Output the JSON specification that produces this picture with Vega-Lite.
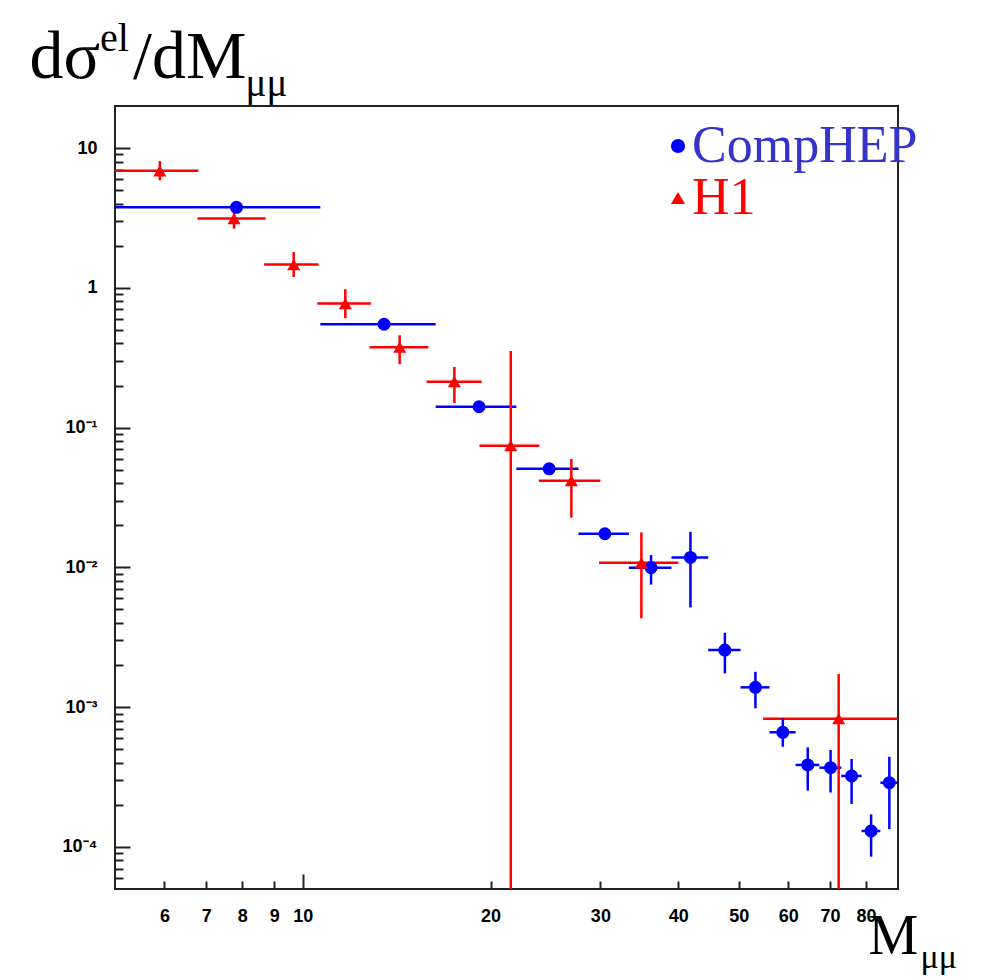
{
  "$schema": "https://vega.github.io/schema/vega-lite/v6.json",
  "width": 783,
  "height": 783,
  "autosize": {"type": "none"},
  "padding": {"left": 115, "top": 106, "right": 96, "bottom": 91},
  "background": "white",
  "config": {"view": {"stroke": "#222", "strokeWidth": 2}},
  "title": {"text": "el", "anchor": "start", "frame": "group", "font": "Liberation Serif", "fontSize": 40, "fontWeight": "normal", "color": "#000", "offset": 0, "baseline": "alphabetic", "dx": -15, "dy": 68},
  "data": {"values": [
    {"series": "CompHEP", "x": 7.83, "xlo": 5, "xhi": 10.67, "y": 3.77, "ylo": 3.77, "yhi": 3.77},
    {"series": "CompHEP", "x": 13.5, "xlo": 10.67, "xhi": 16.33, "y": 0.549, "ylo": 0.549, "yhi": 0.549},
    {"series": "CompHEP", "x": 19.17, "xlo": 16.33, "xhi": 22, "y": 0.141, "ylo": 0.141, "yhi": 0.141},
    {"series": "CompHEP", "x": 24.83, "xlo": 22, "xhi": 27.67, "y": 0.0507, "ylo": 0.0507, "yhi": 0.0507},
    {"series": "CompHEP", "x": 30.5, "xlo": 27.67, "xhi": 33.33, "y": 0.0174, "ylo": 0.0174, "yhi": 0.0174},
    {"series": "CompHEP", "x": 36.17, "xlo": 33.33, "xhi": 39, "y": 0.00996, "ylo": 0.00753, "yhi": 0.01224},
    {"series": "CompHEP", "x": 41.83, "xlo": 39, "xhi": 44.67, "y": 0.01178, "ylo": 0.00517, "yhi": 0.01797},
    {"series": "CompHEP", "x": 47.5, "xlo": 44.67, "xhi": 50.33, "y": 0.00256, "ylo": 0.001745, "yhi": 0.003405},
    {"series": "CompHEP", "x": 53.17, "xlo": 50.33, "xhi": 56, "y": 0.001386, "ylo": 0.000981, "yhi": 0.00179},
    {"series": "CompHEP", "x": 58.83, "xlo": 56, "xhi": 61.67, "y": 0.000661, "ylo": 0.000521, "yhi": 0.000832},
    {"series": "CompHEP", "x": 64.5, "xlo": 61.67, "xhi": 67.33, "y": 0.000386, "ylo": 0.000253, "yhi": 0.000516},
    {"series": "CompHEP", "x": 70.17, "xlo": 67.33, "xhi": 73, "y": 0.000369, "ylo": 0.000245, "yhi": 0.000494},
    {"series": "CompHEP", "x": 75.83, "xlo": 73, "xhi": 78.67, "y": 0.000322, "ylo": 0.000203, "yhi": 0.000426},
    {"series": "CompHEP", "x": 81.5, "xlo": 78.67, "xhi": 84.33, "y": 0.00013, "ylo": 0.0000852, "yhi": 0.000171},
    {"series": "CompHEP", "x": 87.17, "xlo": 84.33, "xhi": 90, "y": 0.000288, "ylo": 0.000134, "yhi": 0.000442},
    {"series": "H1", "x": 5.9, "xlo": 5, "xhi": 6.8, "y": 6.87, "ylo": 5.875, "yhi": 8.07},
    {"series": "H1", "x": 7.76, "xlo": 6.78, "xhi": 8.72, "y": 3.13, "ylo": 2.65, "yhi": 3.69},
    {"series": "H1", "x": 9.67, "xlo": 8.67, "xhi": 10.6, "y": 1.467, "ylo": 1.196, "yhi": 1.805},
    {"series": "H1", "x": 11.7, "xlo": 10.55, "xhi": 12.86, "y": 0.772, "ylo": 0.606, "yhi": 0.977},
    {"series": "H1", "x": 14.3, "xlo": 12.8, "xhi": 15.9, "y": 0.376, "ylo": 0.284, "yhi": 0.458},
    {"series": "H1", "x": 17.5, "xlo": 15.8, "xhi": 19.35, "y": 0.213, "ylo": 0.15, "yhi": 0.272},
    {"series": "H1", "x": 21.55, "xlo": 19.2, "xhi": 23.95, "y": 0.0743, "ylo": 0.000001, "yhi": 0.3535},
    {"series": "H1", "x": 26.95, "xlo": 23.9, "xhi": 30.0, "y": 0.0417, "ylo": 0.0227, "yhi": 0.0597},
    {"series": "H1", "x": 34.9, "xlo": 29.85, "xhi": 40.0, "y": 0.01078, "ylo": 0.00432, "yhi": 0.01779},
    {"series": "H1", "x": 72.3, "xlo": 54.7, "xhi": 90, "y": 0.000827, "ylo": 0.000001, "yhi": 0.001725}
  ]},
  "layer": [
    {"layer": [
      {"mark": {"type": "rule", "strokeWidth": 2.5, "clip": true},
       "encoding": {
         "x": {"field": "xlo", "type": "quantitative",
               "scale": {"type": "log", "domain": [5, 90], "nice": false},
               "axis": {"orient": "bottom", "values": [6, 7, 8, 9, 10, 20, 30, 40, 50, 60, 70, 80],
                        "labelExpr": "'' + datum.value", "domain": false, "grid": false,
                        "tickColor": "#222", "tickWidth": 2,
                        "tickSize": {"condition": {"test": "datum.value === 10", "value": -15}, "value": -8},
                        "labelPadding": {"condition": {"test": "datum.value === 10", "value": 33}, "value": 26},
                        "labelFont": "Liberation Sans", "labelFontSize": 18, "labelFontWeight": "bold", "labelColor": "#000",
                        "labelBaseline": "top", "labelAlign": "center", "labelFlush": false, "labelOverlap": false,
                        "title": "M", "titleFont": "Liberation Serif", "titleFontSize": 56, "titleFontWeight": "normal",
                        "titleColor": "#000", "titleX": 753, "titleY": 64, "titleAlign": "left", "titleBaseline": "alphabetic", "titleAngle": 0}},
         "x2": {"field": "xhi"},
         "y": {"field": "y", "type": "quantitative",
               "scale": {"type": "log", "domain": [0.00005, 20], "nice": false},
               "axis": {"orient": "left",
                        "values": [0.00006, 0.00007, 0.00008, 0.00009, 0.0001, 0.0002, 0.0003, 0.0004, 0.0005, 0.0006, 0.0007, 0.0008, 0.0009, 0.001, 0.002, 0.003, 0.004, 0.005, 0.006, 0.007, 0.008, 0.009, 0.01, 0.02, 0.03, 0.04, 0.05, 0.06, 0.07, 0.08, 0.09, 0.1, 0.2, 0.3, 0.4, 0.5, 0.6, 0.7, 0.8, 0.9, 1, 2, 3, 4, 5, 6, 7, 8, 9, 10],
                        "labelExpr": "datum.value === 10 ? '10' : datum.value === 1 ? '1' : datum.value === 0.1 ? '10⁻¹' : datum.value === 0.01 ? '10⁻²' : datum.value === 0.001 ? '10⁻³' : datum.value === 0.0001 ? '10⁻⁴' : ''",
                        "domain": false, "grid": false, "tickColor": "#222", "tickWidth": 2,
                        "tickSize": {"condition": {"test": "datum.value === 10 || datum.value === 1 || datum.value === 0.1 || datum.value === 0.01 || datum.value === 0.001 || datum.value === 0.0001", "value": -15}, "value": -8},
                        "labelPadding": 33, "labelFont": "Liberation Sans", "labelFontSize": 18, "labelFontWeight": "bold", "labelColor": "#000",
                        "labelAlign": "right", "labelBaseline": "middle", "labelFlush": false, "labelOverlap": false,
                        "title": "dσ\u2009\u2009\u200a/dM", "titleFont": "Liberation Serif", "titleFontSize": 68, "titleFontWeight": "normal", "titleColor": "#000",
                        "titleX": -86, "titleY": -29, "titleAlign": "left", "titleBaseline": "alphabetic", "titleAngle": 0}},
         "stroke": {"field": "series", "type": "nominal", "scale": {"domain": ["H1", "CompHEP"], "range": ["#ff0000", "#0000ff"]}, "legend": null}
       }},
      {"mark": {"type": "rule", "strokeWidth": 2.5, "clip": true},
       "encoding": {
         "x": {"field": "x", "type": "quantitative"},
         "y": {"field": "ylo", "type": "quantitative"},
         "y2": {"field": "yhi"},
         "stroke": {"field": "series", "type": "nominal", "scale": {"domain": ["H1", "CompHEP"], "range": ["#ff0000", "#0000ff"]}, "legend": null}
       }},
      {"mark": {"type": "point", "filled": true, "opacity": 1, "size": 170},
       "encoding": {
         "x": {"field": "x", "type": "quantitative"},
         "y": {"field": "y", "type": "quantitative"},
         "color": {"field": "series", "type": "nominal", "scale": {"domain": ["CompHEP", "H1"], "range": ["#0000ff", "#ff0000"]},
                   "legend": {"title": null, "orient": "none", "legendX": 537, "legendY": 14, "padding": 0,
                              "labelFont": "Liberation Serif", "labelFontSize": 52, "labelLimit": 600, "labelOffset": -12,
                              "labelColor": {"expr": "datum.value === 'H1' ? '#ff0000' : '#3434cc'"},
                              "symbolSize": 200, "rowPadding": 0}},
         "shape": {"field": "series", "type": "nominal", "scale": {"domain": ["CompHEP", "H1"], "range": ["circle", "triangle-up"]},
                   "legend": {"title": null, "orient": "none", "legendX": 537, "legendY": 14, "padding": 0,
                              "labelFont": "Liberation Serif", "labelFontSize": 52, "labelLimit": 600, "labelOffset": -12,
                              "labelColor": {"expr": "datum.value === 'H1' ? '#ff0000' : '#3434cc'"},
                              "symbolSize": 200, "rowPadding": 0}}
       }}
    ]},
    {"mark": {"type": "point", "opacity": 0},
     "encoding": {
       "x": {"field": "x", "type": "quantitative",
             "axis": {"orient": "top", "domain": false, "ticks": false, "labels": false, "grid": false,
                      "title": "μμ", "titleFont": "Liberation Serif", "titleFontSize": 39, "titleFontWeight": "normal", "titleColor": "#000",
                      "titleX": 130, "titleY": -11, "titleAlign": "left", "titleBaseline": "alphabetic", "titleAngle": 0}},
       "y": {"field": "y", "type": "quantitative",
             "axis": {"orient": "right", "domain": false, "ticks": false, "labels": false, "grid": false,
                      "title": "μμ", "titleFont": "Liberation Serif", "titleFontSize": 34, "titleFontWeight": "normal", "titleColor": "#000",
                      "titleX": 22, "titleY": 861, "titleAlign": "left", "titleBaseline": "alphabetic", "titleAngle": 0}}
     }}
  ],
  "resolve": {"axis": {"x": "independent", "y": "independent"}}
}
